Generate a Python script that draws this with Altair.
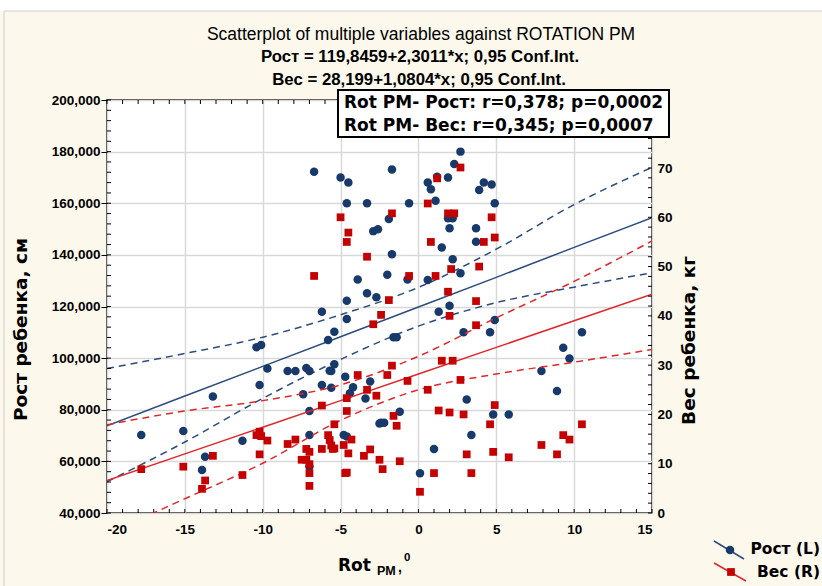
import altair as alt
import pandas as pd

# ---------------- data ----------------
rost_x = [-17.8, -15.1, -13.2, -13.7, -13.9, -11.3, -10.2, -10.4, -10.1, -9.7, -8.4, -7.9, -7.2, -7.0, -7.4,
          -7.0, -7.0, -7.0, -6.2, -6.2, -5.8, -5.4, -5.6, -5.4, -5.6, -4.7, -4.6, -4.6, -4.4, -4.2, -4.8,
          -4.6, -3.4, -3.1, -2.5, -6.7, -5.0, -4.5, -4.6, -3.3, -2.9, -2.6, -3.9, -3.3, -2.7, -1.7, -0.6,
          -1.9, -1.7, -2.0, -0.7, 2.7, 2.3, 1.2, 1.9, 0.6, 0.8, 1.1, 4.2, 4.7, 3.9, 4.9, 1.9, 2.2, 2.0,
          3.7, 3.7, 1.5, 2.2, 2.7, 0.6, 1.3, 2.0, 4.9, -1.6, -1.4, 2.9, 4.6, -1.2, -2.4, -2.2, 1.0, 0.1,
          3.1, 3.4, 4.8, 5.8, 7.9, 8.9, 9.3, 9.7, 10.5, -5.7]
rost_y = [70.2, 71.8, 85.1, 61.8, 56.7, 68.0, 89.6, 104.2, 105.1, 96.0, 95.0, 95.0, 96.2, 95.0, 86.0,
          79.5, 70.2, 58.0, 89.6, 118.0, 107.0, 110.2, 95.0, 97.6, 88.5, 92.8, 115.2, 122.2, 86.4, 88.7,
          70.2, 69.6, 84.4, 90.9, 74.7, 172.2, 170.0, 168.0, 160.0, 160.0, 149.2, 149.9, 130.5, 125.1,
          123.6, 173.1, 160.0, 153.9, 140.2, 132.3, 130.5, 180.0, 175.2, 170.3, 170.0, 168.0, 165.4,
          161.0, 168.0, 167.3, 165.1, 160.0, 154.2, 154.2, 150.3, 150.3, 145.1, 142.9, 138.3, 132.9,
          130.3, 118.0, 120.3, 114.8, 108.1, 108.1, 110.0, 110.0, 79.2, 75.0, 75.0, 64.8, 55.4, 84.0,
          70.2, 78.2, 78.2, 95.0, 87.3, 104.0, 99.9, 110.0, 95.1]

ves_x = [-5.0, -4.5, -4.6, -3.3, -6.7, -1.7, -0.6, -1.9, -2.4, -2.9, 2.7, 1.2, 0.6, 1.9, 2.3, 4.7, 4.9,
         0.8, 4.2, 3.9, 2.1, 1.1, 1.9, 3.7, 2.0, 3.7, -17.8, -15.1, -13.7, -13.9, -13.2, -11.3, -10.4,
         -10.2, -10.1, -9.7, -10.2, -8.4, -7.9, -7.2, -7.5, -7.2, -7.0, -7.0, -7.0, -7.0, -6.2, -6.2,
         -5.8, -5.7, -5.6, -5.4, -5.4, -4.8, -4.5, -4.7, -4.6, -4.6, -4.6, -3.9, -3.3, -2.7, -4.3, -3.1,
         -3.5, -2.5, -1.7, -2.0, -0.7, -1.6, -1.4, -5.5, -2.3, -1.2, 1.5, 2.2, 2.7, 0.6, 4.9, 1.3, 2.0,
         2.9, 4.6, 3.1, 4.8, 5.8, 1.0, 3.4, 0.1, 7.9, 8.9, 9.3, 9.7, 10.5]
ves_y = [60.0, 56.9, 55.0, 52.0, 48.1, 60.8, 48.1, 43.2, 40.2, 38.3, 70.1, 67.9, 62.8, 60.8, 60.8, 60.0,
         55.9, 55.0, 55.0, 50.0, 49.5, 48.1, 44.9, 43.0, 40.0, 38.1, 8.9, 9.4, 6.6, 4.9, 11.6, 7.7, 15.8,
         16.5, 15.6, 14.7, 11.9, 14.0, 14.9, 13.0, 10.8, 10.8, 12.4, 9.9, 8.1, 5.5, 13.0, 21.8, 15.8,
         14.8, 13.7, 13.1, 18.0, 13.8, 12.1, 8.1, 8.2, 20.7, 23.3, 28.0, 25.0, 23.8, 14.9, 12.9, 11.6,
         10.8, 29.9, 28.0, 26.8, 19.7, 17.7, 13.0, 8.9, 10.5, 30.9, 30.9, 27.0, 25.0, 21.9, 20.8, 20.4,
         20.0, 18.0, 11.9, 12.4, 11.3, 8.1, 8.1, 4.3, 13.8, 11.9, 15.8, 14.9, 18.0]

# regression lines and 0.95 confidence bands, read at these x positions
band_x = [-20, -15, -10, -5, 0, 5, 10, 15]
rost_fit = [73.8, 85.3, 96.8, 108.3, 119.8, 131.3, 142.9, 154.4]
rost_upper = [96.0, 101.8, 108.1, 116.8, 127.4, 142.2, 159.5, 173.9]
rost_lower = [52.1, 67.5, 84.4, 99.5, 112.4, 121.5, 127.5, 133.1]
ves_fit = [6.6, 12.0, 17.4, 22.8, 28.2, 33.6, 39.0, 44.4]
ves_upper = [17.9, 20.7, 22.8, 26.0, 31.8, 39.6, 47.0, 55.2]
ves_lower = [-4.3, 2.9, 10.1, 18.8, 25.0, 28.2, 30.6, 33.2]

x_ticks = [-20, -15, -10, -5, 0, 5, 10, 15]
left_ticks = [40, 60, 80, 100, 120, 140, 160, 180, 200]
right_ticks = [0, 10, 20, 30, 40, 50, 60, 70]
x_minor = list(range(-20, 16))
left_minor = list(range(40, 201, 4))
right_minor = list(range(0, 84, 2))

title_text = "Scatterplot of multiple variables against ROTATION PM"
sub1 = "Рост = 119,8459+2,3011*x; 0,95 Conf.Int."
sub2 = "Вес = 28,199+1,0804*x; 0,95 Conf.Int."
box1 = "Rot PM- Рост:  r=0,378; p=0,0002"
box2 = "Rot PM- Вес: r=0,345; p=0,0007"

# ---------------- styling ----------------
W, H = 545, 413
FONT = "Liberation Sans"
WIDE = "DejaVu Sans"
BLUE_PT = "#173A6A"
BLUE_LN = "#2C4C7E"
RED_PT = "#C40000"
RED_LN = "#E0262B"

rost_df = pd.DataFrame({"x": rost_x, "y": rost_y})
ves_df = pd.DataFrame({"x": ves_x, "y": ves_y})
rost_fit_df = pd.DataFrame({"x": band_x, "y": rost_fit})
ves_fit_df = pd.DataFrame({"x": band_x, "y": ves_fit})
rost_band_df = pd.DataFrame({"x": band_x * 2, "y": rost_upper + rost_lower,
                             "k": ["u"] * len(band_x) + ["l"] * len(band_x)})
ves_band_df = pd.DataFrame({"x": band_x * 2, "y": ves_upper + ves_lower,
                            "k": ["u"] * len(band_x) + ["l"] * len(band_x)})
one = pd.DataFrame({"a": [0]})

xs = alt.Scale(domain=[-20, 15], nice=False, zero=False)
yls = alt.Scale(domain=[40, 200], nice=False, zero=False)
yrs = alt.Scale(domain=[0, 83.8], nice=False, zero=False)

x_axis = alt.Axis(values=x_ticks, grid=True, ticks=False, labelPadding=9, labelFontSize=13.5,
                  labelExpr="'' + datum.value", title=None)
yl_axis = alt.Axis(values=left_ticks, grid=True, tickSize=6, tickColor="black", labelPadding=1,
                   labelFontSize=13.5, labelExpr="replace(format(datum.value, '.3f'), '.', ',')",
                   title="Рост ребенка, см", titleFont=WIDE, titleFontSize=18.5, titleAngle=270,
                   titleX=-77, titleY=229)
yr_axis = alt.Axis(values=right_ticks, orient="right", grid=False, ticks=False, labelPadding=5,
                   labelFontSize=13.5, title="Вес ребенка, кг", titleFont=WIDE, titleFontSize=18.5,
                   titleAngle=270, titleX=46, titleY=240)

# ---------------- left (Рост) layers ----------------
blue_band = alt.Chart(rost_band_df).mark_line(color=BLUE_LN, strokeWidth=1.5, strokeDash=[7, 5],
                                              interpolate="monotone", clip=True).encode(
    x=alt.X("x:Q", scale=xs, axis=x_axis), y=alt.Y("y:Q", scale=yls, axis=yl_axis), detail="k:N")
blue_fit = alt.Chart(rost_fit_df).mark_line(color=BLUE_LN, strokeWidth=1.5, clip=True).encode(
    x=alt.X("x:Q", scale=xs), y=alt.Y("y:Q", scale=yls))
blue_pts = alt.Chart(rost_df).mark_circle(size=72, color=BLUE_PT, opacity=1).encode(
    x=alt.X("x:Q", scale=xs), y=alt.Y("y:Q", scale=yls))

xminor_df = pd.DataFrame({"v": x_minor})
tick_bottom = alt.Chart(xminor_df).mark_rule(color="black").encode(
    x=alt.X("v:Q", scale=xs), y=alt.value(H), y2=alt.value(H - 4))
tick_top = alt.Chart(xminor_df).mark_rule(color="black").encode(
    x=alt.X("v:Q", scale=xs), y=alt.value(0), y2=alt.value(4))
tick_left = alt.Chart(pd.DataFrame({"v": left_minor})).mark_rule(color="black").encode(
    y=alt.Y("v:Q", scale=yls), x=alt.value(0), x2=alt.value(4))


def txt(s, x, y, size, bold=True, align="left", font=FONT):
    return alt.Chart(one).mark_text(text=s, align=align, baseline="middle", fontSize=size,
                                    fontWeight="bold" if bold else "normal", font=font,
                                    color="black").encode(x=alt.value(x), y=alt.value(y))


# outer frame pieces
top_strip = alt.Chart(one).mark_rect(color="white").encode(
    x=alt.value(-107), x2=alt.value(715), y=alt.value(-100), y2=alt.value(-89))
frame_top = alt.Chart(one).mark_rule(color="#cfcfcf").encode(
    x=alt.value(-103), x2=alt.value(715), y=alt.value(-89))
frame_left = alt.Chart(one).mark_rule(color="#cfcfcf").encode(
    x=alt.value(-103), y=alt.value(-89), y2=alt.value(486))

titles = [
    txt(title_text, 314, -65, 17.5, bold=False, align="center"),
    txt(sub1, 313, -43, 16.8, align="center"),
    txt(sub2, 312, -20, 16.8, align="center"),
]

box = alt.Chart(one).mark_rect(fill="white", stroke="black", strokeWidth=2).encode(
    x=alt.value(231), x2=alt.value(562), y=alt.value(-10), y2=alt.value(37))
box_txt = [txt(box1, 237, 3, 17, font=WIDE), txt(box2, 237, 26, 17, font=WIDE)]

# x-axis title "Rot PM,0" with sub/superscript
xt = [
    txt("Rot", 231, 466, 17, font=WIDE),
    txt("PM", 270, 471, 12.5),
    txt(",", 291, 468, 14),
    txt("0", 297, 458, 11.5),
]

# custom legend
leg = [
    alt.Chart(one).mark_rule(color=BLUE_LN, strokeWidth=1.5).encode(
        x=alt.value(607), x2=alt.value(637), y=alt.value(441), y2=alt.value(459)),
    alt.Chart(one).mark_circle(size=72, color=BLUE_PT, opacity=1).encode(
        x=alt.value(623), y=alt.value(450)),
    txt("Рост (L)", 713, 449, 15.5, align="right", font=WIDE),
    alt.Chart(one).mark_rule(color=RED_LN, strokeWidth=1.5).encode(
        x=alt.value(607), x2=alt.value(639), y=alt.value(463), y2=alt.value(481)),
    alt.Chart(one).mark_square(size=60, color=RED_PT, opacity=1).encode(
        x=alt.value(624), y=alt.value(472)),
    txt("Вес (R)", 713, 472, 15.5, align="right", font=WIDE),
]

left = alt.layer(blue_band, blue_fit, blue_pts, tick_bottom, tick_top, tick_left)

# ---------------- right (Вес) layers ----------------
red_band = alt.Chart(ves_band_df).mark_line(color=RED_LN, strokeWidth=1.5, strokeDash=[7, 5],
                                            interpolate="monotone", clip=True).encode(
    x=alt.X("x:Q", scale=xs), y=alt.Y("y:Q", scale=yrs, axis=yr_axis), detail="k:N")
red_fit = alt.Chart(ves_fit_df).mark_line(color=RED_LN, strokeWidth=1.5, clip=True).encode(
    x=alt.X("x:Q", scale=xs), y=alt.Y("y:Q", scale=yrs))
red_pts = alt.Chart(ves_df).mark_square(size=60, color=RED_PT, opacity=1).encode(
    x=alt.X("x:Q", scale=xs), y=alt.Y("y:Q", scale=yrs))
tick_right = alt.Chart(pd.DataFrame({"v": right_minor})).mark_rule(color="black").encode(
    y=alt.Y("v:Q", scale=yrs), x=alt.value(W), x2=alt.value(W - 4))

right = alt.layer(red_band, red_fit, red_pts, tick_right)

decor = alt.layer(top_strip, frame_top, frame_left, *titles, box, *box_txt, *xt, *leg)

chart = alt.layer(left, right, decor).resolve_scale(y="independent").properties(
    width=W, height=H,
    autosize=alt.AutoSizeParams(type="none"),
    padding={"left": 107, "top": 100, "right": 170, "bottom": 73},
    background="#FDF8EC",
).configure_view(fill="white", stroke="black", strokeWidth=1.5).configure_axis(
    labelFont=FONT, titleFont=FONT, labelColor="black", titleColor="black",
    labelFontWeight="bold", titleFontWeight="bold", domain=False,
    gridColor="#d9d9d9", gridWidth=1.5,
)

chart.save("out.html", embed_options={"renderer": "svg", "actions": False})
